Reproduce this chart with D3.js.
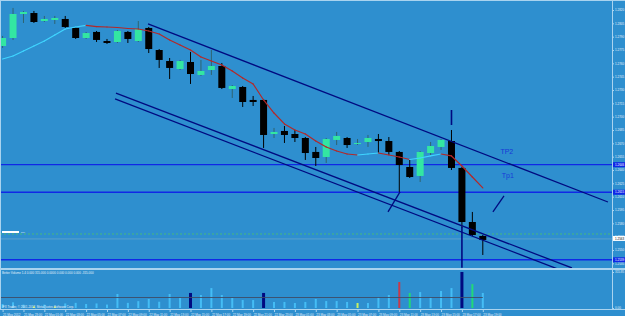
<!DOCTYPE html>
<html>
<head>
<meta charset="utf-8">
<script src="https://cdn.jsdelivr.net/npm/d3@7"></script>
<style>
  body { margin: 0; background: #2e8fcf; overflow: hidden; }
  svg { display: block; }
</style>
</head>
<body>
<div id="chart"></div>
<script>
// EURUSD H1, 21 May 21:00 .. 23 May 19:00 (one entry per candle)
var opens = [1.27795, 1.27885, 1.28155, 1.28166, 1.28076, 1.28088, 1.28099, 1.27998, 1.27885, 1.27953,
  1.27851, 1.27840, 1.27953, 1.27851, 1.27998, 1.27750, 1.27626, 1.27536, 1.27615, 1.27469,
  1.27525, 1.27570, 1.27311, 1.27334, 1.27188, 1.27188, 1.26805, 1.26839, 1.26805, 1.26760,
  1.26603, 1.26546, 1.26738, 1.26760, 1.26693, 1.26715, 1.26749, 1.26726, 1.26603, 1.26434,
  1.26333, 1.26591, 1.26659, 1.26726, 1.26423, 1.25815, 1.25658];
var highs = [1.27908, 1.28223, 1.28189, 1.28189, 1.28133, 1.28133, 1.28133, 1.28009, 1.27953, 1.27964,
  1.27874, 1.27975, 1.27964, 1.28076, 1.28009, 1.27761, 1.27660, 1.27638, 1.27728, 1.27638,
  1.27750, 1.27604, 1.27356, 1.27345, 1.27233, 1.27199, 1.26873, 1.26895, 1.26850, 1.26771,
  1.26659, 1.26760, 1.26828, 1.26771, 1.26749, 1.26794, 1.26805, 1.26771, 1.26614, 1.26513,
  1.26614, 1.26715, 1.26749, 1.26850, 1.26434, 1.25928, 1.25669];
var lows = [1.27773, 1.27863, 1.28054, 1.28054, 1.28065, 1.28043, 1.27998, 1.27874, 1.27874, 1.27840,
  1.27818, 1.27829, 1.27829, 1.27840, 1.27716, 1.27548, 1.27424, 1.27525, 1.27368, 1.27458,
  1.27469, 1.27311, 1.27210, 1.27109, 1.27120, 1.26648, 1.26760, 1.26704, 1.26715, 1.26513,
  1.26445, 1.26479, 1.26681, 1.26648, 1.26681, 1.26659, 1.26591, 1.26569, 1.26153, 1.26310,
  1.26265, 1.26558, 1.26625, 1.26400, 1.25748, 1.25658, 1.25444];
var closes = [1.27885, 1.28155, 1.28178, 1.28065, 1.28099, 1.28110, 1.28009, 1.27885, 1.27941, 1.27863,
  1.27829, 1.27964, 1.27874, 1.27986, 1.27761, 1.27638, 1.27548, 1.27626, 1.27480, 1.27514,
  1.27570, 1.27323, 1.27345, 1.27165, 1.27165, 1.26794, 1.26828, 1.26794, 1.26760, 1.26591,
  1.26535, 1.26749, 1.26783, 1.26681, 1.26704, 1.26760, 1.26726, 1.26603, 1.26456, 1.26321,
  1.26603, 1.26670, 1.26738, 1.26423, 1.25815, 1.25669, 1.25613];
var maValues = [1.27649, 1.27683, 1.27739, 1.27795, 1.27851, 1.27919, 1.27986, 1.28009, 1.28026, 1.28014,
  1.28009, 1.28003, 1.27992, 1.27986, 1.27964, 1.27930, 1.27863, 1.27806, 1.27750, 1.27671,
  1.27626, 1.27581, 1.27514, 1.27435, 1.27368, 1.27188, 1.27041, 1.26918, 1.26850, 1.26805,
  1.26726, 1.26659, 1.26614, 1.26580, 1.26569, 1.26580, 1.26591, 1.26569, 1.26546, 1.26518,
  1.26535, 1.26558, 1.26580, 1.26558, 1.26445, 1.26321, 1.26198];
var volumes = [35, 50, 30, 15, 30, 15, 40, 45, 35, 40,
  30, 123, 45, 60, 79, 55, 123, 88, 132, 114,
  175, 114, 88, 70, 70, 132, 53, 53, 44, 53,
  79, 61, 61, 53, 44, 44, 96, 114, 228, 132,
  140, 96, 149, 175, 316, 210, 132];
// n normal, c climax, r climax high, g churn, y low volume
var volTypes = ["n", "n", "n", "y", "n", "y", "n", "n", "n", "n",
  "n", "n", "n", "n", "n", "n", "n", "n", "c", "n",
  "n", "n", "n", "n", "n", "c", "n", "n", "n", "n",
  "n", "n", "n", "n", "y", "n", "n", "n", "r", "g",
  "n", "n", "n", "n", "c", "g", "n"];
var volAverage = 92;

var priceTicks = [1.2820, 1.2805, 1.2790, 1.2775, 1.2760, 1.2745, 1.2730, 1.2715, 1.2700, 1.2685,
  1.2670, 1.2655, 1.2640, 1.2625, 1.2610, 1.2595, 1.2580, 1.2565, 1.2550, 1.2535];
var volTicks = [315.85, 0];
var timeLabels = ["21 May 2012", "21 May 23:00", "22 May 01:00", "22 May 03:00", "22 May 05:00",
  "22 May 07:00", "22 May 09:00", "22 May 11:00", "22 May 13:00", "22 May 15:00", "22 May 17:00",
  "22 May 19:00", "22 May 21:00", "22 May 23:00", "23 May 01:00", "23 May 03:00", "23 May 05:00",
  "23 May 07:00", "23 May 09:00", "23 May 11:00", "23 May 13:00", "23 May 15:00", "23 May 17:00",
  "23 May 19:00"];

// horizontal levels, bid, buy order
var levels = [1.2646, 1.2615, 1.2539];
var bidPrice = 1.2563;
var buyPrice = 1.2568;

// drawn objects in (bar index, price)
var trendLines = [
  [13.93, 1.28043, 57.99, 1.26040],
  [10.86, 1.27266, 54.54, 1.25298],
  [10.77, 1.27199, 53.10, 1.25290],
  [36.92, 1.25928, 38.07, 1.26153],
  [46.97, 1.25928, 48.03, 1.26108],
  [43.0, 1.27075, 43.0, 1.26906],
  [44.0, 1.25759, 44.0, 1.25300]
];
var tpLabels = [
  {text: "TP2", index: 48.3, price: 1.26605},
  {text: "Tp1", index: 48.4, price: 1.26335}
];

var colors = {
  bg: "#2e8fcf",
  frame: "#a9d3ef",
  text: "#e4f1fb",
  bull: "#33e6a2",
  bullWick: "#2f6470",
  bear: "#000000",
  maUp: "#3fd5ff",
  maDown: "#b42828",
  trend: "#000a80",
  level: "#1028e6",
  vol: {n: "#45bdf5", c: "#000a80", r: "#c83a4a", g: "#22d878", y: "#c8f060"}
};

var W = 625, H = 316;
var pane = {left: 0, right: 612, top: 1, bottom: 268};
var sub = {top: 270, bottom: 309};

var x = d3.scaleLinear().domain([0, 46]).range([2.6, 482.8]);
var y = d3.scaleLinear().domain([1.2535, 1.2820]).range([263.33, 10]);
var yv = d3.scaleLinear().domain([0, 315.85]).range([308, 272]);

var svg = d3.select("#chart").append("svg")
  .attr("width", W)
  .attr("height", H)
  .style("font-family", "'Liberation Sans', Arial, sans-serif");

svg.append("rect").attr("width", W).attr("height", H).attr("fill", colors.bg);

svg.append("clipPath").attr("id", "mainClip")
  .append("rect")
  .attr("x", pane.left).attr("y", pane.top)
  .attr("width", pane.right - pane.left).attr("height", pane.bottom - pane.top);

var main = svg.append("g").attr("clip-path", "url(#mainClip)");

// level lines + order lines
main.selectAll(".level").data(levels).enter().append("line")
  .attr("x1", pane.left).attr("x2", pane.right)
  .attr("y1", function(d) { return y(d); }).attr("y2", function(d) { return y(d); })
  .attr("stroke", colors.level).attr("stroke-width", 1.4);

main.append("line")
  .attr("x1", pane.left).attr("x2", pane.right)
  .attr("y1", y(buyPrice)).attr("y2", y(buyPrice))
  .attr("stroke", "#4cc46a").attr("stroke-width", 0.8).attr("stroke-dasharray", "2,2");
main.append("line")
  .attr("x1", pane.left).attr("x2", pane.right)
  .attr("y1", y(bidPrice) + 0.5).attr("y2", y(bidPrice) + 0.5)
  .attr("stroke", "#7aaccc").attr("stroke-width", 0.6);
main.append("rect")
  .attr("x", 2).attr("y", y(buyPrice) - 3).attr("width", 17).attr("height", 2)
  .attr("fill", "#ffffff");
main.append("text")
  .attr("x", 21).attr("y", y(buyPrice) - 1)
  .attr("font-size", 2.5).attr("fill", colors.text)
  .text("buy");

// candles
var idx = d3.range(opens.length);
var candles = main.selectAll(".candle").data(idx).enter().append("g");
candles.append("line")
  .attr("x1", function(i) { return x(i); }).attr("x2", function(i) { return x(i); })
  .attr("y1", function(i) { return y(highs[i]); }).attr("y2", function(i) { return y(lows[i]); })
  .attr("stroke", function(i) { return closes[i] >= opens[i] ? colors.bullWick : colors.bear; })
  .attr("stroke-width", 1);
candles.append("rect")
  .attr("x", function(i) { return x(i) - 3.5; })
  .attr("width", 7)
  .attr("y", function(i) { return y(Math.max(opens[i], closes[i])); })
  .attr("height", function(i) { return Math.max(1, Math.abs(y(opens[i]) - y(closes[i]))); })
  .attr("fill", function(i) { return closes[i] >= opens[i] ? colors.bull : colors.bear; });

// two colour moving average
main.selectAll(".ma").data(idx.slice(1)).enter().append("line")
  .attr("x1", function(i) { return x(i - 1); }).attr("x2", function(i) { return x(i); })
  .attr("y1", function(i) { return y(maValues[i - 1]); }).attr("y2", function(i) { return y(maValues[i]); })
  .attr("stroke", function(i) { return maValues[i] >= maValues[i - 1] ? colors.maUp : colors.maDown; })
  .attr("stroke-width", 1.2)
  .attr("stroke-linecap", "round");

// trend lines
main.selectAll(".trend").data(trendLines).enter().append("line")
  .attr("x1", function(d) { return x(d[0]); }).attr("y1", function(d) { return y(d[1]); })
  .attr("x2", function(d) { return x(d[2]); }).attr("y2", function(d) { return y(d[3]); })
  .attr("stroke", colors.trend)
  .attr("stroke-width", function(d) { return d[0] === d[2] ? 1.6 : 1.3; });

main.selectAll(".tp").data(tpLabels).enter().append("text")
  .attr("x", function(d) { return x(d.index); })
  .attr("y", function(d) { return y(d.price); })
  .attr("text-anchor", "middle")
  .attr("dominant-baseline", "middle")
  .attr("font-size", 7)
  .attr("fill", "#1838d8")
  .text(function(d) { return d.text; });

// volume sub window
var vol = svg.append("g");
vol.selectAll(".vbar").data(idx).enter().append("rect")
  .attr("x", function(i) { return x(i) - (volTypes[i] === "c" ? 1.5 : 1); })
  .attr("width", function(i) { return volTypes[i] === "c" ? 3 : 2; })
  .attr("y", function(i) { return yv(volumes[i]); })
  .attr("height", function(i) { return yv(0) - yv(volumes[i]); })
  .attr("fill", function(i) { return colors.vol[volTypes[i]]; });
vol.append("line")
  .attr("x1", pane.left).attr("x2", x(46))
  .attr("y1", yv(volAverage)).attr("y2", yv(volAverage))
  .attr("stroke", "#3e4c68").attr("stroke-width", 0.9);
vol.append("text")
  .attr("x", 2).attr("y", 274)
  .attr("font-size", 3).attr("fill", colors.text)
  .text("Better Volume 1.4  0.000 315.000 0.0000 0.000 0.000 0.000 -315.000");
vol.append("text")
  .attr("x", 2).attr("y", 308)
  .attr("font-size", 3).attr("fill", colors.text)
  .text("IFX Trader, \u00a9 2001-2012, MetaQuotes Software Corp.");

// frame
var frame = svg.append("g").attr("fill", "none").attr("stroke", colors.frame).attr("stroke-width", 1);
frame.append("line").attr("x1", 0).attr("x2", W).attr("y1", 0.5).attr("y2", 0.5);
frame.append("line").attr("x1", 0.5).attr("x2", 0.5).attr("y1", 0).attr("y2", sub.bottom);
frame.append("line").attr("x1", pane.right + 0.5).attr("x2", pane.right + 0.5).attr("y1", 0).attr("y2", sub.bottom);
frame.append("line").attr("x1", 0).attr("x2", W).attr("y1", pane.bottom + 0.5).attr("y2", pane.bottom + 0.5);
frame.append("line").attr("x1", 0).attr("x2", W).attr("y1", sub.top - 0.5).attr("y2", sub.top - 0.5);
frame.append("line").attr("x1", 0).attr("x2", W).attr("y1", sub.bottom + 0.5).attr("y2", sub.bottom + 0.5);

// axes
function styleAxis(g) {
  g.select(".domain").remove();
  g.selectAll(".tick line").attr("stroke", colors.frame);
  g.selectAll(".tick text").attr("fill", colors.text).attr("font-size", 3)
    .attr("font-family", "'Liberation Sans', Arial, sans-serif");
}

var yAxis = svg.append("g")
  .attr("transform", "translate(" + pane.right + ",0)")
  .call(d3.axisRight(y).tickValues(priceTicks).tickSize(2).tickPadding(1).tickFormat(d3.format(".4f")));
styleAxis(yAxis);

var vAxis = svg.append("g")
  .attr("transform", "translate(" + pane.right + ",0)")
  .call(d3.axisRight(yv).tickValues(volTicks).tickSize(2).tickPadding(1).tickFormat(d3.format(".2f")));
styleAxis(vAxis);

var xAxis = svg.append("g")
  .attr("transform", "translate(0," + (sub.bottom + 1) + ")")
  .call(d3.axisBottom(x)
    .tickValues(timeLabels.map(function(d, k) { return k * 2; }))
    .tickSize(2)
    .tickFormat(function(d) { return timeLabels[d / 2]; }));
styleAxis(xAxis);
xAxis.selectAll(".tick text").attr("text-anchor", "start").attr("x", 0).attr("dy", "0.2em");

// price boxes on the axis
var boxes = levels.map(function(p) { return {price: p, fill: colors.level, color: "#ffffff"}; });
boxes.push({price: bidPrice, fill: "#ffffff", color: "#000000"});
var box = svg.selectAll(".pbox").data(boxes).enter().append("g")
  .attr("transform", function(d) { return "translate(" + (pane.right + 1) + "," + y(d.price) + ")"; });
box.append("rect")
  .attr("x", 0).attr("y", -2.5).attr("width", W - pane.right - 1).attr("height", 5)
  .attr("fill", function(d) { return d.fill; });
box.append("text")
  .attr("x", 2).attr("dy", "0.35em")
  .attr("font-size", 3)
  .attr("fill", function(d) { return d.color; })
  .text(function(d) { return d3.format(".4f")(d.price); });
</script>
</body>
</html>
